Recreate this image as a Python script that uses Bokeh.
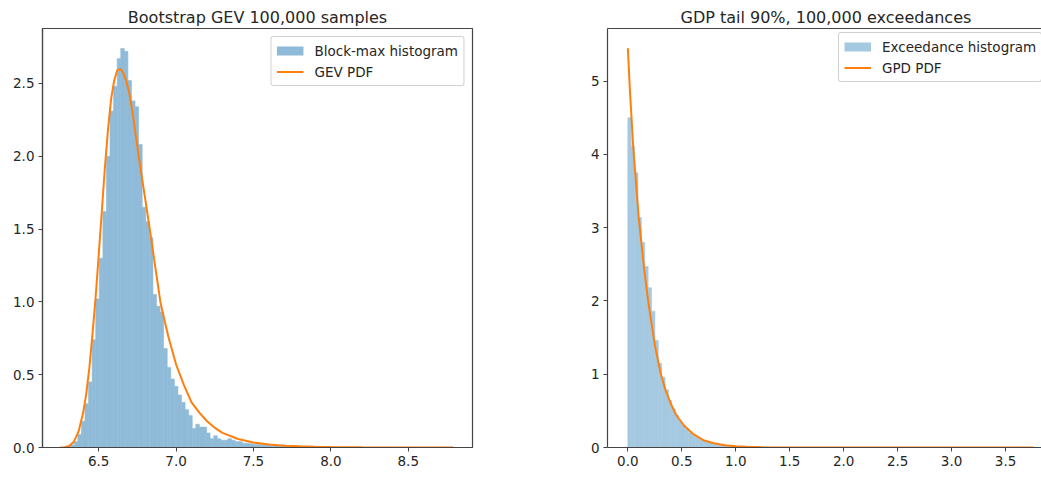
import numpy as np
from bokeh.plotting import figure
from bokeh.layouts import row
from bokeh.models import (Range1d, FixedTicker, Legend, LegendItem, LinearAxis,
                          PrintfTickFormatter)
from bokeh.embed import file_html
from bokeh.resources import INLINE

# ---------------- data: left panel (bootstrap GEV block maxima) ----------------
left_title = "Bootstrap GEV 100,000 samples"
gev_hist_range = [6.25, 8.79]
gev_density = [
    0.0, 0.002, 0.005, 0.018, 0.04, 0.09, 0.18, 0.30, 0.45, 0.74,
    1.02, 1.30, 1.62, 2.00, 2.31, 2.48, 2.67, 2.74, 2.72, 2.52,
    2.38, 2.34, 2.08, 1.65, 1.55, 1.44, 1.05, 0.97, 0.93, 0.68,
    0.55, 0.47, 0.42, 0.36, 0.31, 0.26, 0.22, 0.13, 0.16, 0.14,
    0.14, 0.10, 0.06, 0.08, 0.06, 0.05, 0.05, 0.06, 0.05, 0.04,
    0.04, 0.03, 0.03, 0.025, 0.02, 0.02, 0.018, 0.015, 0.02, 0.01,
    0.01, 0.012, 0.018, 0.008, 0.006, 0.006, 0.005, 0.007, 0.004, 0.004,
    0.003, 0.005, 0.003, 0.002, 0.002, 0.003, 0.001, 0.002, 0.001, 0.001,
    0.0005, 0.001, 0.0, 0.0005, 0.0005, 0.0, 0.0005, 0.0, 0.0, 0.0005,
    0.0, 0.0, 0.0005, 0.0, 0.0, 0.0, 0.0, 0.0005, 0.0, 0.0,
    0.0, 0.0, 0.0, 0.0, 0.0, 0.0, 0.0, 0.0, 0.0, 0.0005,
]
gev_x = [6.25, 6.28, 6.31, 6.34, 6.37, 6.40, 6.42, 6.44, 6.46, 6.48,
         6.50, 6.52, 6.54, 6.56, 6.58, 6.60, 6.62, 6.64, 6.66, 6.68,
         6.70, 6.72, 6.74, 6.76, 6.78, 6.80, 6.83, 6.86, 6.90, 6.95,
         7.00, 7.05, 7.10, 7.15, 7.20, 7.25, 7.30, 7.40, 7.50, 7.60,
         7.70, 7.80, 7.90, 8.00, 8.20, 8.40, 8.60, 8.79]
gev_pdf = [0.0, 0.002, 0.01, 0.04, 0.11, 0.24, 0.37, 0.55, 0.78, 1.03,
           1.32, 1.62, 1.92, 2.18, 2.39, 2.52, 2.59, 2.60, 2.57, 2.51,
           2.42, 2.29, 2.14, 1.99, 1.85, 1.71, 1.50, 1.28, 0.99, 0.76,
           0.57, 0.43, 0.31, 0.24, 0.18, 0.135, 0.10, 0.058, 0.034, 0.020,
           0.012, 0.008, 0.005, 0.0035, 0.0017, 0.0008, 0.0004, 0.0002]
left_xticks = [6.5, 7.0, 7.5, 8.0, 8.5]
left_yticks = [0.0, 0.5, 1.0, 1.5, 2.0, 2.5]
left_legend = ["Block-max histogram", "GEV PDF"]

# ---------------- data: right panel (GPD tail exceedances) ----------------
right_title = "GDP tail 90%, 100,000 exceedances"
gpd_hist_range = [0.0, 3.76]
gpd_density = [
    4.50, 4.11, 3.75, 3.14, 2.80, 2.47, 2.18, 1.86, 1.46, 1.15,
    0.96, 0.79, 0.64, 0.53, 0.44, 0.36, 0.30, 0.245, 0.20, 0.165,
    0.135, 0.11, 0.09, 0.075, 0.06, 0.05, 0.04, 0.033, 0.027, 0.022,
    0.018, 0.014, 0.011, 0.009, 0.007, 0.006, 0.005, 0.004, 0.003, 0.0025,
    0.002, 0.0015, 0.0012, 0.001, 0.0008, 0.0006, 0.0005, 0.0004, 0.0003, 0.0003,
    0.0002, 0.0002, 0.0, 0.0002, 0.0, 0.0, 0.0001, 0.0, 0.0, 0.0,
    0.0, 0.0, 0.0, 0.0, 0.0, 0.0, 0.0, 0.0, 0.0, 0.0,
    0.0, 0.0, 0.0, 0.0, 0.0, 0.0, 0.0, 0.0, 0.0, 0.0,
    0.0, 0.0, 0.0, 0.0, 0.0, 0.0, 0.0, 0.0, 0.0, 0.0,
    0.0, 0.0, 0.0, 0.0, 0.0, 0.0, 0.0, 0.0, 0.0, 0.0,
    0.0, 0.0, 0.0, 0.0, 0.0, 0.0, 0.0, 0.0, 0.0, 0.0,
    0.0, 0.0, 0.0, 0.0, 0.0, 0.0, 0.0, 0.0, 0.0, 0.0001,
]
gpd_x = [0.0, 0.02, 0.05, 0.10, 0.15, 0.19, 0.25, 0.306, 0.35, 0.40,
         0.45, 0.52, 0.60, 0.70, 0.80, 0.90, 1.00, 1.10, 1.25, 1.50,
         2.00, 2.50, 3.00, 3.50, 3.76]
gpd_pdf = [5.45, 4.85, 4.10, 3.15, 2.45, 1.98, 1.40, 1.00, 0.78, 0.59,
           0.44, 0.30, 0.19, 0.10, 0.058, 0.032, 0.018, 0.010, 0.004, 0.0012,
           0.0001, 0.0, 0.0, 0.0, 0.0]
right_xticks = [0.0, 0.5, 1.0, 1.5, 2.0, 2.5, 3.0, 3.5]
right_yticks = [0, 1, 2, 3, 4, 5]
right_legend = ["Exceedance histogram", "GPD PDF"]

# ---------------- styling ----------------
FONT = "DejaVu Sans"
TEXT = "#262626"
SPINE = "#444444"
HIST_LEFT = "#8fbbd9"    # tab:blue at 50% on white
HIST_RIGHT = "#a5c9e1"   # tab:blue at 40% on white
ORANGE = "#ff7f0e"


def style_axes(p, xticks, yticks, xfmt, yfmt):
    p.xgrid.visible = False
    p.ygrid.visible = False
    p.background_fill_color = "white"
    p.border_fill_color = "white"
    p.xaxis.ticker = FixedTicker(ticks=xticks)
    p.yaxis.ticker = FixedTicker(ticks=yticks)
    p.xaxis.formatter = PrintfTickFormatter(format=xfmt)
    p.yaxis.formatter = PrintfTickFormatter(format=yfmt)
    for ax in (p.xaxis[0], p.yaxis[0]):
        ax.axis_line_color = SPINE
        ax.axis_line_width = 1.2
        ax.major_tick_line_color = SPINE
        ax.major_tick_out = 4
        ax.major_tick_in = 0
        ax.minor_tick_out = 0
        ax.minor_tick_in = 0
        ax.major_label_text_font = FONT
        ax.major_label_text_font_size = "13.5px"
        ax.major_label_text_color = TEXT
        ax.major_label_standoff = 4
    p.title.text_font = FONT
    p.title.text_font_size = "16px"
    p.title.text_font_style = "normal"
    p.title.text_color = TEXT
    p.title.standoff = 4


def make_legend(p, labels, patch_renderer, line_renderer, location):
    lg = Legend(items=[LegendItem(label=labels[0], renderers=[patch_renderer]),
                       LegendItem(label=labels[1], renderers=[line_renderer])],
                location=location)
    lg.label_text_font = FONT
    lg.label_text_font_size = "13.5px"
    lg.label_text_color = TEXT
    lg.glyph_width = 27
    lg.glyph_height = 17
    lg.label_height = 17
    lg.label_standoff = 11
    lg.spacing = 4
    lg.padding = 5
    lg.margin = 8
    lg.border_line_color = "#cccccc"
    lg.border_line_alpha = 0.9
    lg.background_fill_alpha = 0.8
    try:
        lg.border_radius = 3
    except Exception:
        pass
    p.add_layout(lg)
    return lg


# ---------------- left figure ----------------
pl = figure(width=532, height=477, output_backend="svg", toolbar_location=None,
            title=left_title, x_range=Range1d(6.137, 8.915), y_range=Range1d(0, 2.877),
            min_border_left=42, min_border_right=60, min_border_top=28, min_border_bottom=30)
pl.title.align = "center"
style_axes(pl, left_xticks, left_yticks, "%.1f", "%.1f")
pl.outline_line_color = SPINE
pl.outline_line_width = 1.2
pl.outline_line_alpha = 1

g_edges = np.linspace(gev_hist_range[0], gev_hist_range[1], len(gev_density) + 1)
pl.quad(left=g_edges[:-1], right=g_edges[1:], bottom=0, top=gev_density,
        fill_color=HIST_LEFT, line_color=HIST_LEFT, line_width=0.6)
gev_line = pl.line(gev_x, gev_pdf, line_color=ORANGE, line_width=2)
gev_patch = pl.line(x=[np.nan], y=[np.nan], line_color=HIST_LEFT, line_width=9)
make_legend(pl, left_legend, gev_patch, gev_line, "top_right")

# ---------------- right figure ----------------
pr = figure(width=509, height=477, output_backend="svg", toolbar_location=None,
            title=right_title, x_range=Range1d(-0.1885, 3.833), y_range=Range1d(0, 5.72),
            min_border_left=75, min_border_right=0, min_border_top=28, min_border_bottom=30)
pr.title.align = "left"
pr.title.offset = 73
style_axes(pr, right_xticks, right_yticks, "%.1f", "%d")
pr.outline_line_color = None
top_axis = LinearAxis(ticker=FixedTicker(ticks=[]), axis_line_color=SPINE, axis_line_width=1.2,
                      major_tick_out=0, major_tick_in=0, minor_tick_out=0, minor_tick_in=0,
                      major_label_text_font_size="0px", major_label_standoff=0)
pr.add_layout(top_axis, "above")

p_edges = np.linspace(gpd_hist_range[0], gpd_hist_range[1], len(gpd_density) + 1)
pr.quad(left=p_edges[:-1], right=p_edges[1:], bottom=0, top=gpd_density,
        fill_color=HIST_RIGHT, line_color=HIST_RIGHT, line_width=0.6)
gpd_line = pr.line(gpd_x, gpd_pdf, line_color=ORANGE, line_width=2)
gpd_patch = pr.line(x=[np.nan], y=[np.nan], line_color=HIST_RIGHT, line_width=9)
make_legend(pr, right_legend, gpd_patch, gpd_line, (231, 365))

layout = row(pl, pr, spacing=0)
open("out.html", "w").write(file_html(layout, INLINE))
